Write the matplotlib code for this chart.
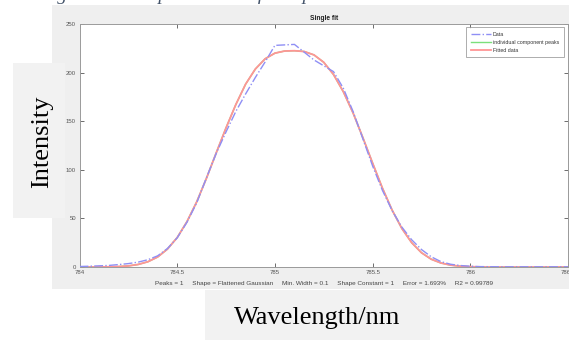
import matplotlib
matplotlib.use("Agg")
import matplotlib.pyplot as plt
from matplotlib.patches import Rectangle

# ---- data ----
wavelength = [784.00, 784.05, 784.10, 784.15, 784.20, 784.25, 784.30, 784.35, 784.40, 784.45,
              784.50, 784.55, 784.60, 784.65, 784.70, 784.75, 784.80, 784.85, 784.90, 784.95,
              785.00, 785.05, 785.10, 785.15, 785.20, 785.25, 785.30, 785.35, 785.40, 785.45,
              785.50, 785.55, 785.60, 785.65, 785.70, 785.75, 785.80, 785.85, 785.90, 785.95,
              786.00, 786.05, 786.10, 786.15, 786.20, 786.25, 786.30, 786.35, 786.40, 786.45,
              786.50]
data_intensity = [0.5, 0.8, 1.2, 1.6, 2.5, 3.5, 5.0, 7.5, 11.5, 19.0,
                  30.0, 46.0, 66.0, 92.0, 117.0, 139.0, 160.0, 178.0, 195.0, 211.0,
                  228.0, 228.5, 229.0, 221.0, 213.0, 207.0, 201.0, 184.0, 160.0, 132.0,
                  104.0, 79.0, 58.0, 41.0, 28.0, 18.0, 10.5, 5.5, 2.8, 1.5,
                  0.8, 0.4, 0.3, 0.2, 0.2, 0.2, 0.2, 0.2, 0.2, 0.2,
                  0.2]
fit_intensity = [0.0, 0.0, 0.06, 0.17, 0.46, 1.1, 2.6, 5.4, 10.3, 18.4,
                 30.3, 46.7, 67.1, 91.4, 117.6, 143.2, 167.1, 188.1, 203.7, 214.2,
                 220.0, 222.2, 222.5, 221.7, 218.2, 210.6, 198.0, 180.4, 158.5, 133.2,
                 106.9, 81.3, 58.5, 39.5, 25.0, 14.7, 8.0, 4.1, 1.9, 0.8,
                 0.3, 0.1, 0.0, 0.0, 0.0, 0.0, 0.0, 0.0, 0.0, 0.0,
                 0.0]
xticks = [784, 784.5, 785, 785.5, 786, 786.5]
xtick_labels = ["784", "784.5", "785", "785.5", "786", "786.5"]
yticks = [0, 50, 100, 150, 200, 250]
legend_labels = ["Data", "individual component peaks", "Fitted data"]
info_text = ("Peaks = 1     Shape = Flattened Gaussian     Min. Width = 0.1     "
             "Shape Constant = 1     Error = 1.693%     R2 = 0.99789")

W, H = 569, 340
fig = plt.figure(figsize=(W / 100, H / 100), dpi=100)
fig.patch.set_facecolor("white")

def fx(px):
    return px / W

def fy(py):
    return 1 - py / H

# MATLAB figure panel
fig.patches.append(Rectangle((fx(52), fy(289)), fx(569) - fx(52), fy(5) - fy(289),
                             transform=fig.transFigure, facecolor="#efefef",
                             edgecolor="none", zorder=-5))

ax = fig.add_axes([fx(79.5), fy(267), fx(568) - fx(79.5), fy(24) - fy(267)])
ax.set_zorder(1)
ax.set_facecolor("white")

sans = ["Liberation Sans", "DejaVu Sans"]

ax.plot(wavelength, fit_intensity, color="#7be07b", lw=1.0, label=legend_labels[1], zorder=2)
ax.plot(wavelength, data_intensity, color="#8f8ff5", lw=1.0, ls="-.", label=legend_labels[0], zorder=4)
ax.plot(wavelength, fit_intensity, color="#ff9595", lw=1.3, label=legend_labels[2], zorder=3)

ax.set_xlim(784, 786.5)
ax.set_ylim(0, 250)
ax.set_xticks(xticks)
ax.set_xticklabels(xtick_labels)
ax.set_yticks(yticks)
ax.tick_params(direction="in", length=3, width=0.6, colors="#555555",
               labelsize=4.3, top=True, right=True, pad=2.5)
for lab in ax.get_xticklabels() + ax.get_yticklabels():
    lab.set_family(sans)
for sp in ax.spines.values():
    sp.set_color("#9a9a9a")
    sp.set_linewidth(0.7)

ax.set_title("Single fit", fontsize=4.8, fontweight="bold", family=sans,
             color="#222222", pad=3)

handles, labels = ax.get_legend_handles_labels()
order = [labels.index(l) for l in legend_labels]
leg = ax.legend([handles[i] for i in order], [labels[i] for i in order],
                loc="upper right", bbox_to_anchor=(fx(564), fy(27)),
                bbox_transform=fig.transFigure, fontsize=3.8, frameon=True,
                fancybox=False, edgecolor="#888888", handlelength=3.8,
                borderpad=0.9, labelspacing=0.55, handletextpad=0.4, borderaxespad=0)
leg.get_frame().set_linewidth(0.6)
for t in leg.get_texts():
    t.set_family(sans)
    t.set_color("#333333")

fig.text(fx(324), fy(284), info_text, fontsize=4.6, family=sans, color="#444444",
         ha="center", va="center", zorder=6)

# overlay label boxes
fig.patches.append(Rectangle((fx(13), fy(218)), fx(65) - fx(13), fy(63) - fy(218),
                             transform=fig.transFigure, facecolor="#f2f2f2",
                             edgecolor="none", zorder=5))
fig.patches.append(Rectangle((fx(205), fy(340)), fx(430) - fx(205), fy(290) - fy(340),
                             transform=fig.transFigure, facecolor="#f2f2f2",
                             edgecolor="none", zorder=5))
serif = ["Liberation Serif", "DejaVu Serif"]
fig.text(fx(42), fy(141.5), "Intensity", rotation=90, fontsize=19, family=serif,
         color="black", ha="center", va="center", zorder=6)
fig.text(fx(317), fy(318), "Wavelength/nm", fontsize=19, family=serif,
         color="black", ha="center", va="center", zorder=6)

# cut-off caption at the very top
fig.text(fx(290), fy(0.5), "Figure 4. The spectral data fitted peak via a Flattened Gaussian",
         fontsize=14, family=serif, style="italic", color="#44546a",
         ha="center", va="baseline", zorder=6)

fig.savefig("out.png", dpi=100, facecolor="white")
